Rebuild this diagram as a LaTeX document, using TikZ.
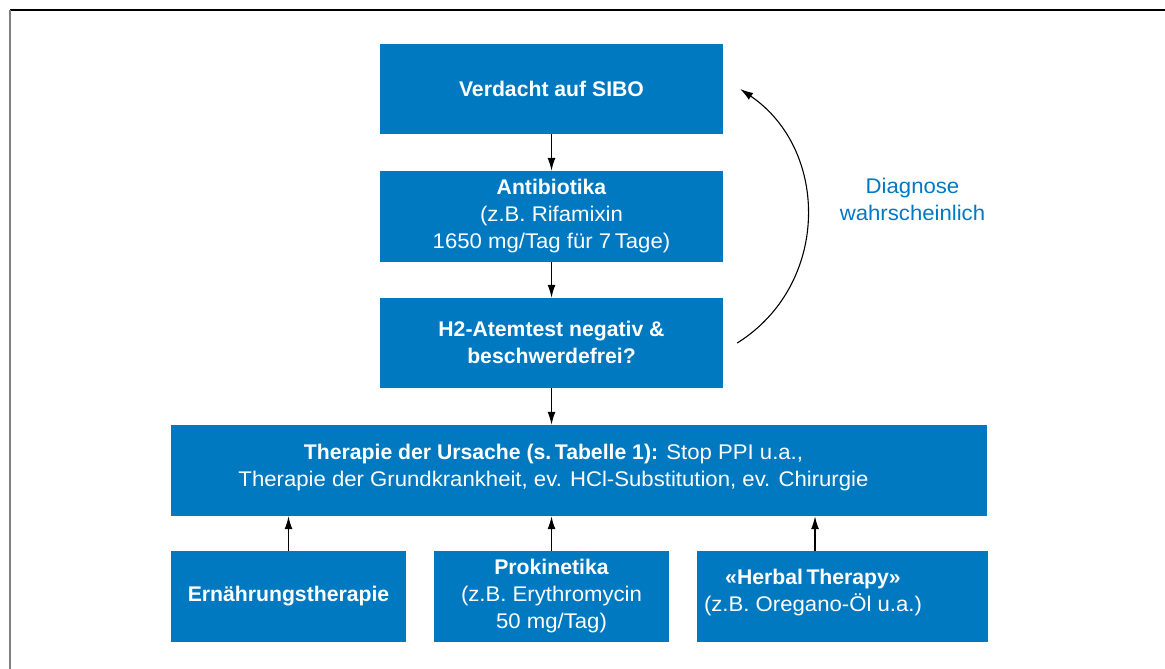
\documentclass[tikz,border=0pt]{standalone}
\usepackage{fontspec}
\setmainfont{Liberation Sans}[UprightFeatures={FakeStretch=1.045}]
\usetikzlibrary{arrows.meta}
\definecolor{boxblue}{RGB}{0,121,193}
\tikzset{
  box/.style={fill=boxblue, text=white, draw=none, inner sep=0pt, align=center,
    font=\fontsize{21.2}{27}\selectfont},
  boxtext/.style={text=white, inner sep=0pt, align=center, font=\fontsize{21.2}{27}\selectfont},
  conn/.style={draw=black, line width=1.3pt, -{Latex[length=13pt,width=8pt]}},
  lbl/.style={text=boxblue, align=center, font=\fontsize{21.2}{27}\selectfont}
}
\begin{document}
\begin{tikzpicture}[x=1pt,y=-1pt]
\useasboundingbox (0,0) rectangle (1165,669);
\fill[white] (0,0) rectangle (1165,669);
% frame lines
\draw[black, line width=1.5pt] (10,10) -- (1165,10);
\draw[gray, line width=2pt] (10,10) -- (10,669);

% boxes
\node[box, minimum width=343pt, minimum height=90pt] (b1) at (551.5,89) {\bfseries Verdacht auf SIBO};
\node[box, minimum width=343pt, minimum height=91pt] (b2) at (551.5,216.5)
  {\bfseries Antibiotika\\(z.B. Rifamixin\\1650 mg/Tag für 7\,Tage)};
\node[box, minimum width=343pt, minimum height=90pt] (b3) at (551.5,343)
  {\raisebox{2pt}{\bfseries H2-Atemtest negativ \&}\\\raisebox{2pt}{\bfseries beschwerdefrei?}};
\node[box, minimum width=816pt, minimum height=91pt] (b4) at (579,470.5) {};
\node[boxtext] (b4t) at (553.5,468)
  {\textbf{Therapie der Ursache (s.\,Tabelle 1):} Stop PPI u.a.,\\
   Therapie der Grundkrankheit, ev. HCl-Substitution, ev. Chirurgie};
\node[box, minimum width=235pt, minimum height=91pt] (b5) at (288.5,596.5)
  {\raisebox{6pt}{\bfseries Ernährungstherapie}};
\node[box, minimum width=235pt, minimum height=91pt] (b6) at (551.5,596.5)
  {\bfseries Prokinetika\\(z.B. Erythromycin\\50 mg/Tag)};
\node[box, minimum width=291pt, minimum height=91pt] (b7) at (842,596.5) {};
\node[boxtext] (b7t) at (813,593)
  {\textbf{«Herbal\,Therapy»}\\(z.B. Oregano-Öl u.a.)};

% label
\node[lbl] (diag) at (912.5,199) {Diagnose\\wahrscheinlich};

% connectors
\draw[conn] (b1.south) -- (b2.north);
\draw[conn] (b2.south) -- (b3.north);
\draw[conn] (b3.south) -- (b3.south |- b4.north);
\draw[conn] (b5.north) -- (b5.north |- b4.south);
\draw[conn] (b6.north) -- (b6.north |- b4.south);
\coordinate (h7) at (815,551);
\draw[conn] (h7) -- (h7 |- b4.south);
\coordinate (cs) at ([xshift=14pt]b3.east);
\coordinate (ce) at ([xshift=17pt]b1.east);
\draw[conn, line width=1.1pt] (cs) .. controls (830,285) and (830,150) .. (ce);
\end{tikzpicture}
\end{document}
